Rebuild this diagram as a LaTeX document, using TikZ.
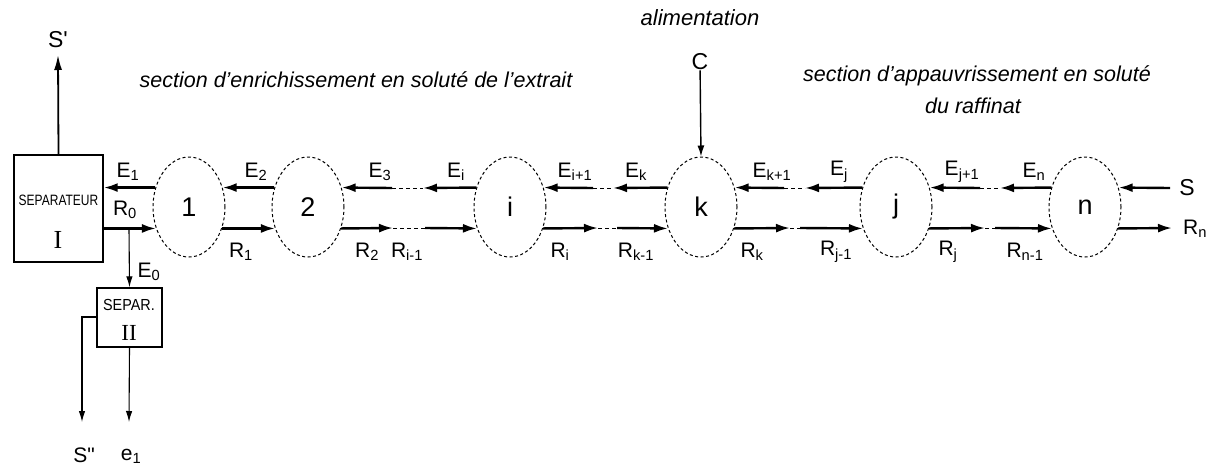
\documentclass[tikz,border=0pt]{standalone}
\usepackage{fontspec}
\setmainfont{Liberation Sans}
\newfontfamily\serifroman{Liberation Serif}
\usetikzlibrary{arrows.meta,shapes.geometric}
\begin{document}
\begin{tikzpicture}[x=1pt,y=-1pt,
  stage/.style={draw,ellipse,dash pattern=on 3pt off 2.5pt,line width=1pt,minimum width=72pt,minimum height=100pt,inner sep=0pt,font=\fontsize{27}{27}\selectfont},
  flow/.style={line width=2.4pt,-{Latex[length=14pt,width=9pt]}},
  thinflow/.style={line width=1.1pt,-{Latex[length=11pt,width=6.5pt]}},
  link/.style={line width=0.7pt,dash pattern=on 4pt off 3pt},
  lab/.style={font=\fontsize{21}{21}\selectfont,inner sep=0pt},
  big/.style={font=\fontsize{23}{23}\selectfont,inner sep=0pt},
  sect/.style={font=\fontsize{21.5}{23}\selectfont\itshape,inner sep=0pt,align=center},
  box/.style={draw,line width=1.4pt,inner sep=0pt}]
\useasboundingbox (0,0) rectangle (1209,471);

% separators
\node[box,minimum width=89pt,minimum height=107pt] (sep1) at (58.5,208.5) {};
\node[inner sep=0pt,font=\fontsize{15}{15}\selectfont] (sep1t) at (58.5,200) {\scalebox{0.8}[1]{SEPARATEUR}};
\node[inner sep=0pt,font=\fontsize{26}{26}\selectfont\serifroman] (sep1n) at (58,240) {I};
\node[box,minimum width=65pt,minimum height=59pt] (sep2) at (129.5,317.5) {};
\node[inner sep=0pt,font=\fontsize{16}{16}\selectfont] (sep2t) at (129,305) {\scalebox{0.9}[1]{SEPAR.}};
\node[inner sep=0pt,font=\fontsize{23}{23}\selectfont\serifroman] (sep2n) at (129,333) {II};

% stages
\node[stage] (s1) at (189,207) {1};
\node[stage] (s2) at (308,207) {2};
\node[stage] (si) at (510,207) {i};
\node[stage] (sk) at (701,207) {k};
\node[stage] (sj) at (896,207) {j};
\node[stage] (sn) at (1085,207) {n};

% section titles
\node[sect] (t1) at (356,80) {section d'enrichissement en soluté de l'extrait};
\node[sect] (t2) at (977,76) {section d'appauvrissement en soluté};
\node[sect] (t3) at (973,106) {du raffinat};
\node[sect,font=\fontsize{22}{22}\selectfont\itshape] (alim) at (700,18) {alimentation};
\node[big] (C) at (700,62) {C};

% free ends
\coordinate (sprime) at (58,55);
\coordinate (e0top) at (129,228.2);
\coordinate (ssbend) at (82,317);
\coordinate (ssend) at (82,422);
\coordinate (e1end) at (129,422);
\coordinate (e3) at (392,188);
\coordinate (el) at (423,188);
\coordinate (r2) at (393,228);
\coordinate (rim1) at (425,228);
\coordinate (ei1) at (593,188);
\coordinate (ek) at (613,188);
\coordinate (ri) at (598,228);
\coordinate (rk1) at (617,228);
\coordinate (ek1) at (784,188);
\coordinate (ej) at (805,188);
\coordinate (rk) at (790,228);
\coordinate (rj1) at (800,228);
\coordinate (ej1) at (980,188);
\coordinate (en) at (1000,188);
\coordinate (rj) at (985,228);
\coordinate (rn1) at (995,228);
\coordinate (sin) at (1170,188);
\coordinate (rnout) at (1172,228);

% left part
\draw[line width=1.8pt,-{Latex[length=15pt,width=8pt]}] (sep1.north) -- (sprime);
\draw[flow] (s1.150) -- (s1.150 -| sep1.east);
\draw[flow] (s1.213 -| sep1.east) -- (s1.213);
\draw[thinflow] (e0top) -- (sep2.north);
\draw[thinflow] (sep2.west |- ssbend) -- (ssbend) -- (ssend);
\draw[thinflow] (sep2.south) -- (e1end);

% 1 - 2
\draw[flow] (s2.150) -- (s1.30);
\draw[flow] (s1.327) -- (s2.213);
% 2 - i
\draw[flow] (e3) -- (s2.30);
\draw[link] (e3) -- (el);
\draw[flow] (si.150) -- (el);
\draw[flow] (s2.327) -- (r2);
\draw[link] (r2) -- (rim1);
\draw[flow] (rim1) -- (si.213);
% i - k
\draw[flow] (ei1) -- (si.30);
\draw[link] (ei1) -- (ek);
\draw[flow] (sk.150) -- (ek);
\draw[flow] (si.327) -- (ri);
\draw[link] (ri) -- (rk1);
\draw[flow] (rk1) -- (sk.213);
% k - j
\draw[flow] (ek1) -- (sk.30);
\draw[link] (ek1) -- (ej);
\draw[flow] (sj.150) -- (ej);
\draw[flow] (sk.327) -- (rk);
\draw[link] (rk) -- (rj1);
\draw[flow] (rj1) -- (sj.213);
% j - n
\draw[flow] (ej1) -- (sj.30);
\draw[link] (ej1) -- (en);
\draw[flow] (sn.150) -- (en);
\draw[flow] (sj.327) -- (rj);
\draw[link] (rj) -- (rn1);
\draw[flow] (rn1) -- (sn.213);
% right
\draw[flow] (sin) -- (sn.30);
\draw[flow] (sn.327) -- (rnout);
% feed
\draw[line width=1.4pt,-{Latex[length=11pt,width=7pt]}] (C) -- (sk.north);

% labels
\node[big] (lsp) at (58,40) {S\textquotesingle};
\node[lab] (lE1) at (128,172) {E\textsubscript{1}};
\node[lab] (lR0) at (125,210) {R\textsubscript{0}};
\node[lab] (lE0) at (149,272) {E\textsubscript{0}};
\node[lab] (lss) at (84,455) {S\textquotedbl};
\node[lab] (le1) at (131,456) {e\textsubscript{1}};
\node[lab] (lE2) at (256,172) {E\textsubscript{2}};
\node[lab] (lR1) at (241,252) {R\textsubscript{1}};
\node[lab] (lE3) at (380,172) {E\textsubscript{3}};
\node[lab] (lR2) at (367,252) {R\textsubscript{2}};
\node[lab] (lEi) at (456,172) {E\textsubscript{i}};
\node[lab] (lRim1) at (407,252) {R\textsubscript{i-1}};
\node[lab] (lEi1) at (575,172) {E\textsubscript{i+1}};
\node[lab] (lRi) at (560,252) {R\textsubscript{i}};
\node[lab] (lEk) at (636,172) {E\textsubscript{k}};
\node[lab] (lRk1) at (636,252) {R\textsubscript{k-1}};
\node[lab] (lEk1) at (772,172) {E\textsubscript{k+1}};
\node[lab] (lRk) at (752,252) {R\textsubscript{k}};
\node[lab] (lEj) at (839,172) {E\textsubscript{j}};
\node[lab] (lRj1) at (836,252) {R\textsubscript{j-1}};
\node[lab] (lEj1) at (962,172) {E\textsubscript{j+1}};
\node[lab] (lRj) at (948,252) {R\textsubscript{j}};
\node[lab] (lEn) at (1034,172) {E\textsubscript{n}};
\node[lab] (lRn1) at (1025,252) {R\textsubscript{n-1}};
\node[big] (lS) at (1187,188) {S};
\node[lab] (lRn) at (1195,229) {R\textsubscript{n}};
\end{tikzpicture}
\end{document}
